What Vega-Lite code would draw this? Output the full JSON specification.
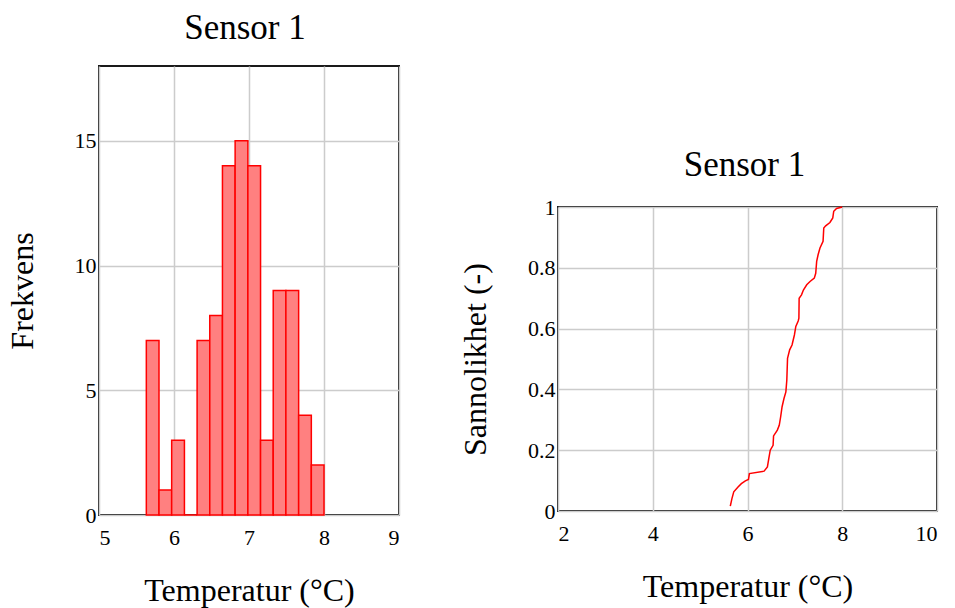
{
  "$schema": "https://vega.github.io/schema/vega-lite/v6.json",
  "background": "white",
  "padding": {"left": 5, "top": 10, "right": 5, "bottom": 5},
  "config": {
    "font": "Liberation Serif",
    "view": {"stroke": "#1a1a1a", "strokeWidth": 2},
    "axis": {
      "domain": false,
      "ticks": false,
      "labelFont": "Liberation Serif",
      "labelFontSize": 22,
      "labelColor": "#000000",
      "titleFont": "Liberation Serif",
      "titleFontSize": 32,
      "titleFontWeight": "normal",
      "titleColor": "#000000",
      "gridColor": "#cccccc",
      "gridWidth": 1.5
    },
    "axisX": {"labelPadding": 12, "titlePadding": 27},
    "axisY": {"labelPadding": 3, "titlePadding": 35},
    "title": {
      "font": "Liberation Serif",
      "fontSize": 35,
      "fontWeight": "normal",
      "color": "#000000",
      "frame": "group",
      "anchor": "middle"
    },
    "concat": {"spacing": 58}
  },
  "hconcat": [
    {
      "width": 300,
      "height": 449,
      "title": {"text": "Sensor 1", "font": "Liberation Serif", "offset": 20, "dx": -4},
      "data": {
        "values": [
          {"lo": 5.631, "hi": 5.800, "n": 7},
          {"lo": 5.800, "hi": 5.969, "n": 1},
          {"lo": 5.969, "hi": 6.139, "n": 3},
          {"lo": 6.139, "hi": 6.308, "n": 0},
          {"lo": 6.308, "hi": 6.477, "n": 7},
          {"lo": 6.477, "hi": 6.646, "n": 8},
          {"lo": 6.646, "hi": 6.815, "n": 14},
          {"lo": 6.815, "hi": 6.985, "n": 15},
          {"lo": 6.985, "hi": 7.154, "n": 14},
          {"lo": 7.154, "hi": 7.323, "n": 3},
          {"lo": 7.323, "hi": 7.492, "n": 9},
          {"lo": 7.492, "hi": 7.662, "n": 9},
          {"lo": 7.662, "hi": 7.831, "n": 4},
          {"lo": 7.831, "hi": 8.000, "n": 2}
        ]
      },
      "mark": {"type": "rect", "fill": "#ff8080", "stroke": "#ff0000", "strokeWidth": 1.5},
      "encoding": {
        "x": {
          "field": "lo",
          "type": "quantitative",
          "scale": {"domain": [5, 9], "nice": false, "zero": false},
          "axis": {"values": [5, 6, 7, 8, 9], "title": "Temperatur (°C)"}
        },
        "x2": {"field": "hi"},
        "y": {
          "field": "n",
          "type": "quantitative",
          "scale": {"domain": [0, 18], "nice": false},
          "axis": {"values": [0, 5, 10, 15], "title": "Frekvens"}
        },
        "y2": {"datum": 0}
      }
    },
    {
      "spacing": 0,
      "vconcat": [
        {
          "width": 379,
          "height": 81,
          "data": {"values": []},
          "mark": "rect",
          "view": {"stroke": null, "fill": "white"}
        },
        {
          "width": 379,
          "height": 304,
          "title": {"text": "Sensor 1", "font": "Liberation Serif", "offset": 13, "dx": -3},
          "data": {
            "values": [
              {"t": 5.637, "p": 0.016},
              {"t": 5.67, "p": 0.04},
              {"t": 5.71, "p": 0.063},
              {"t": 5.80, "p": 0.079},
              {"t": 5.87, "p": 0.09},
              {"t": 5.955, "p": 0.099},
              {"t": 6.02, "p": 0.104},
              {"t": 6.04, "p": 0.123},
              {"t": 6.35, "p": 0.131},
              {"t": 6.42, "p": 0.145},
              {"t": 6.45, "p": 0.173},
              {"t": 6.48, "p": 0.2},
              {"t": 6.54, "p": 0.216},
              {"t": 6.55, "p": 0.247},
              {"t": 6.63, "p": 0.266},
              {"t": 6.67, "p": 0.282},
              {"t": 6.70, "p": 0.31},
              {"t": 6.73, "p": 0.343},
              {"t": 6.77, "p": 0.37},
              {"t": 6.81, "p": 0.392},
              {"t": 6.83, "p": 0.431},
              {"t": 6.845, "p": 0.502},
              {"t": 6.89, "p": 0.53},
              {"t": 6.94, "p": 0.546},
              {"t": 6.99, "p": 0.579},
              {"t": 7.02, "p": 0.607},
              {"t": 7.07, "p": 0.625},
              {"t": 7.085, "p": 0.634},
              {"t": 7.09, "p": 0.70},
              {"t": 7.14, "p": 0.711},
              {"t": 7.18, "p": 0.727},
              {"t": 7.25, "p": 0.744},
              {"t": 7.32, "p": 0.755},
              {"t": 7.41, "p": 0.766},
              {"t": 7.44, "p": 0.782},
              {"t": 7.46, "p": 0.821},
              {"t": 7.49, "p": 0.843},
              {"t": 7.53, "p": 0.865},
              {"t": 7.595, "p": 0.887},
              {"t": 7.61, "p": 0.931},
              {"t": 7.65, "p": 0.938},
              {"t": 7.74, "p": 0.949},
              {"t": 7.80, "p": 0.964},
              {"t": 7.82, "p": 0.986},
              {"t": 7.88, "p": 0.995},
              {"t": 8.00, "p": 1.0}
            ]
          },
          "mark": {"type": "line", "color": "#ff0000", "strokeWidth": 1.5},
          "encoding": {
            "x": {
              "field": "t",
              "type": "quantitative",
              "scale": {"domain": [2, 10], "nice": false, "zero": false},
              "axis": {"values": [2, 4, 6, 8, 10], "title": "Temperatur (°C)"}
            },
            "y": {
              "field": "p",
              "type": "quantitative",
              "scale": {"domain": [0, 1], "nice": false},
              "axis": {"values": [0, 0.2, 0.4, 0.6, 0.8, 1], "format": "~g", "title": "Sannolikhet (-)"}
            }
          }
        }
      ]
    }
  ]
}
